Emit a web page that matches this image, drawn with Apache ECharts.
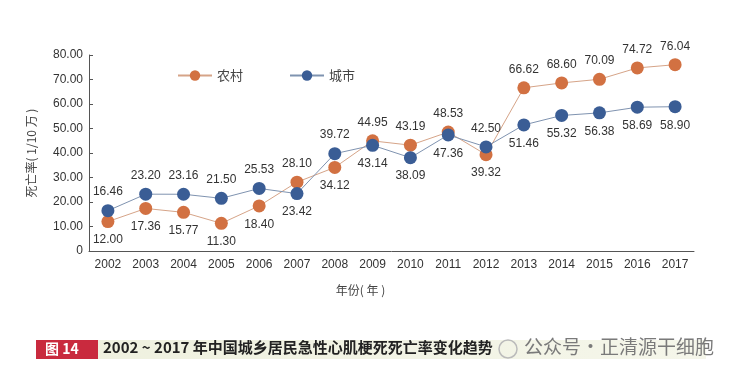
<!DOCTYPE html>
<html>
<head>
<meta charset="utf-8">
<script src="https://cdn.jsdelivr.net/npm/echarts@6/dist/echarts.min.js"></script>
<style>
html,body{margin:0;padding:0;background:#fff;}
#main{width:738px;height:377px;}
</style>
</head>
<body>
<div id="main"></div>
<script>
// 年份
var years = ['2002','2003','2004','2005','2006','2007','2008','2009','2010','2011','2012','2013','2014','2015','2016','2017'];
// 农村
var rural = [12.00,17.36,15.77,11.30,18.40,28.10,34.12,44.95,43.19,48.53,39.32,66.62,68.60,70.09,74.72,76.04];
var ruralPos = ['bottom','bottom','bottom','bottom','bottom','top','bottom','top','top','top','bottom','top','top','top','top','top'];
// 城市
var urban = [16.46,23.20,23.16,21.50,25.53,23.42,39.72,43.14,38.09,47.36,42.50,51.46,55.32,56.38,58.69,58.90];
var urbanPos = ['top','top','top','top','top','bottom','top','bottom','bottom','bottom','top','bottom','bottom','bottom','bottom','bottom'];

var cnFont = '"Noto Sans CJK SC", "Noto Sans", sans-serif';

function mk(vals, pos){
	var out = [];
	for(var i = 0; i < vals.length; i++){
		out.push({value: vals[i], label: {position: pos[i]}});
	}
	return out;
}

var chart = echarts.init(document.getElementById('main'));
var option = {
	backgroundColor: '#fff',
	animation: false,
	textStyle: {fontFamily: cnFont},
	grid: {left: 89, right: 44, top: 55, bottom: 126},
	legend: {
		left: 172, top: 64, itemWidth: 34, itemHeight: 13, itemGap: 46,
		textStyle: {fontSize: 13, color: '#444', fontFamily: cnFont},
		data: ['农村','城市']
	},
	xAxis: {
		type: 'category', data: years,
		axisLine: {lineStyle: {color: '#555'}},
		axisTick: {inside: true, length: 4, alignWithLabel: true, lineStyle: {color: '#555'}},
		axisLabel: {color: '#333', fontSize: 12, margin: 8, fontFamily: 'Liberation Sans, Arial'},
		name: '年份( 年 )', nameLocation: 'middle', nameGap: 33,
		nameTextStyle: {color: '#444', fontSize: 12, padding: [0, 62, 0, 0]}
	},
	yAxis: {
		type: 'value', min: 0, max: 80, interval: 10,
		splitLine: {show: false},
		axisLine: {show: true, lineStyle: {color: '#555'}},
		axisTick: {show: true, inside: true, length: 4, lineStyle: {color: '#555'}},
		axisLabel: {color: '#333', fontSize: 12, margin: 6, fontFamily: 'Liberation Sans, Arial',
			formatter: function(v){ return v === 0 ? '0' : v.toFixed(2); }},
		name: '死亡率( 1/10 万 )', nameLocation: 'middle', nameGap: 52,
		nameTextStyle: {color: '#444', fontSize: 12}
	},
	series: [
		{
			name: '农村', type: 'line', data: mk(rural, ruralPos),
			symbol: 'circle', symbolSize: 13,
			itemStyle: {color: '#d27142'},
			lineStyle: {color: '#d6a488', width: 1},
			label: {show: true, distance: 6, color: '#333', fontSize: 12, fontFamily: 'Liberation Sans, Arial',
				formatter: function(p){ return p.value.toFixed(2); }},
			z: 2
		},
		{
			name: '城市', type: 'line', data: mk(urban, urbanPos),
			symbol: 'circle', symbolSize: 13,
			itemStyle: {color: '#3a5d95'},
			lineStyle: {color: '#7f93b0', width: 1},
			label: {show: true, distance: 6, color: '#333', fontSize: 12, fontFamily: 'Liberation Sans, Arial',
				formatter: function(p){ return p.value.toFixed(2); }},
			z: 3
		}
	],
	graphic: [
		{type: 'rect', left: 36, top: 340, shape: {width: 670, height: 19},
			style: {fill: new echarts.graphic.LinearGradient(0, 0, 1, 0, [
				{offset: 0, color: '#eef0de'}, {offset: 1, color: '#f5f6ea'}])}},
		{type: 'rect', left: 36, top: 340, shape: {width: 62, height: 19}, style: {fill: '#c92a3e'}},
		{type: 'text', left: 45, top: 342, style: {text: '图 14', fill: '#fff', fontSize: 14, fontWeight: 'bold', fontFamily: cnFont}},
		{type: 'text', left: 103, top: 340, style: {text: '2002 ~ 2017 年中国城乡居民急性心肌梗死死亡率变化趋势', fill: '#222', fontSize: 15, fontWeight: 'bold', fontFamily: cnFont}},
		{type: 'circle', shape: {cx: 508, cy: 349, r: 9}, style: {fill: 'none', stroke: '#bbb', lineWidth: 1.5}},
		{type: 'text', left: 524, top: 337, style: {text: '公众号·正清源干细胞', fill: '#7a7a7a', fontSize: 19, fontFamily: cnFont}}
	]
};
chart.setOption(option);
</script>
</body>
</html>
